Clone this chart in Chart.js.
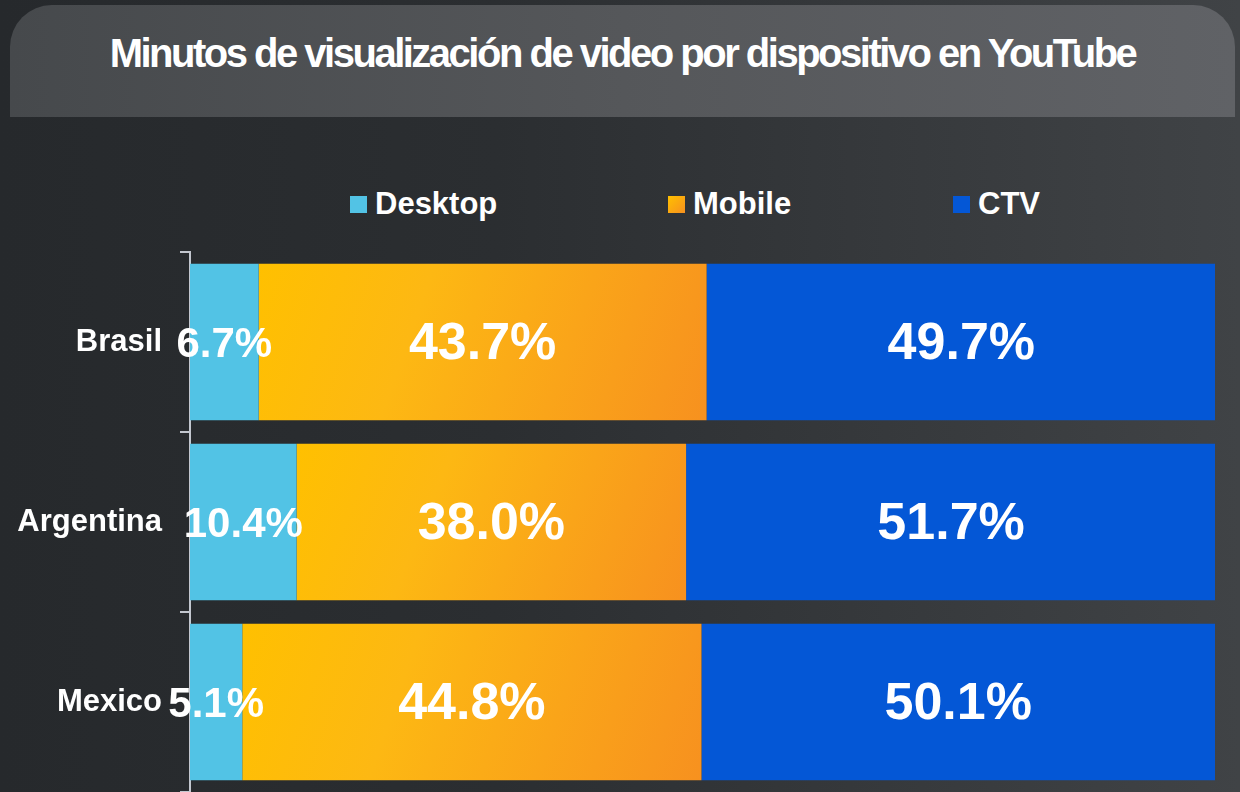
<!DOCTYPE html>
<html>
<head>
<meta charset="utf-8">
<title>Minutos de visualización de video por dispositivo en YouTube</title>
<script src="https://cdn.jsdelivr.net/npm/chart.js@4/dist/chart.umd.min.js"></script>
<style>
    html, body { margin: 0; padding: 0; }
    body {
        width: 1240px; height: 792px; overflow: hidden; position: relative;
        background: linear-gradient(90deg, #26292c 0%, #2b2e31 40%, #404346 100%);
        font-family: "Liberation Sans", Arial, sans-serif;
    }
    .title-panel {
        position: absolute; left: 10px; top: 5px; width: 1225px; height: 112px;
        border-radius: 42px 42px 0 0;
        background: linear-gradient(90deg, #46494c 0%, #55575a 50%, #606266 100%);
    }
    .title-panel h1 {
        margin: 0; text-align: center; color: #fff;
        font-size: 40px; font-weight: bold; letter-spacing: -2.5px;
        line-height: 96px; white-space: nowrap;
    }
    .legend-item {
        position: absolute; top: 187px; height: 34px; display: flex; align-items: center;
        color: #fff; font-size: 31px; font-weight: bold;
    }
    .legend-item .box { width: 17px; height: 17px; margin-right: 8px; }
    #chart { position: absolute; left: 0; top: 0; }
</style>
</head>
<body>
<div class="title-panel"><h1>Minutos de visualización de video por dispositivo en YouTube</h1></div>
<div id="legend"></div>
<canvas id="chart" width="1240" height="792"></canvas>
<script>
const countries = ['Brasil', 'Argentina', 'Mexico'];
const seriesNames = ['Desktop', 'Mobile', 'CTV'];
const desktop = [6.7, 10.4, 5.1];
const mobile = [43.7, 38.0, 44.8];
const ctv = [49.7, 51.7, 50.1];

const FONT = '"Liberation Sans", Arial, sans-serif';
const BAR_PCT = 0.87;

// Mobile bars: yellow (top-left) to orange (bottom-right), one gradient per bar
function mobileGradient(context) {
    const chart = context.chart;
    const { ctx, chartArea, scales } = chart;
    if (!chartArea) return '#fbb316';
    const i = context.dataIndex;
    const x0 = scales.x.getPixelForValue(desktop[i]);
    const x1 = scales.x.getPixelForValue(desktop[i] + mobile[i]);
    const yc = scales.y.getPixelForValue(i);
    const half = (scales.y.height / countries.length) * BAR_PCT / 2;
    const g = ctx.createLinearGradient(x0, yc - half, x1, yc + half);
    g.addColorStop(0, '#ffc000');
    g.addColorStop(0.35, '#fdb813');
    g.addColorStop(1, '#f7911f');
    return g;
}

const colors = ['#52c3e5', mobileGradient, '#0457d6'];
const legendSwatches = ['#52c3e5', 'linear-gradient(135deg, #ffc000, #f7911f)', '#0457d6'];
const legendLeft = [350, 668, 953];

// HTML legend
const legendEl = document.getElementById('legend');
seriesNames.forEach((name, k) => {
    const item = document.createElement('div');
    item.className = 'legend-item';
    item.style.left = legendLeft[k] + 'px';
    item.innerHTML = `<span class="box" style="background:${legendSwatches[k]}"></span><span>${name}</span>`;
    legendEl.appendChild(item);
});

// value labels centred in each segment
const barLabels = {
    id: 'barLabels',
    afterDatasetsDraw(chart) {
        const ctx = chart.ctx;
        ctx.save();
        ctx.fillStyle = '#fff';
        ctx.textAlign = 'center';
        ctx.textBaseline = 'middle';
        chart.data.datasets.forEach((ds, d) => {
            const meta = chart.getDatasetMeta(d);
            ctx.font = `bold ${d === 0 ? 42 : 52}px ${FONT}`;
            meta.data.forEach((bar, i) => {
                const cx = (bar.x + bar.base) / 2;
                ctx.fillText(ds.data[i].toFixed(1) + '%', cx, bar.y + 3);
            });
        });
        ctx.restore();
    }
};

new Chart(document.getElementById('chart'), {
    type: 'bar',
    data: {
        labels: countries,
        datasets: [
            { label: seriesNames[0], data: desktop, backgroundColor: colors[0] },
            { label: seriesNames[1], data: mobile, backgroundColor: colors[1] },
            { label: seriesNames[2], data: ctv, backgroundColor: colors[2] }
        ]
    },
    options: {
        indexAxis: 'y',
        responsive: false,
        animation: false,
        barPercentage: BAR_PCT,
        categoryPercentage: 1,
        layout: { padding: { top: 252, right: 25, bottom: 0, left: 0 } },
        plugins: { legend: { display: false }, tooltip: { enabled: false } },
        scales: {
            x: { stacked: true, display: false, min: 0, max: 100 },
            y: {
                stacked: true,
                grid: {
                    drawOnChartArea: false, drawTicks: true, tickLength: 10,
                    color: '#c3c7cf', lineWidth: 2, offset: true
                },
                border: { display: true, color: '#c3c7cf', width: 2 },
                ticks: { color: '#fff', padding: 18, font: { family: FONT, size: 31, weight: 'bold' } },
                afterFit: scale => {
                    scale.width = 190;
                    scale.paddingTop = 0;
                    scale.paddingBottom = 0;
                }
            }
        }
    },
    plugins: [barLabels]
});
</script>
</body>
</html>
